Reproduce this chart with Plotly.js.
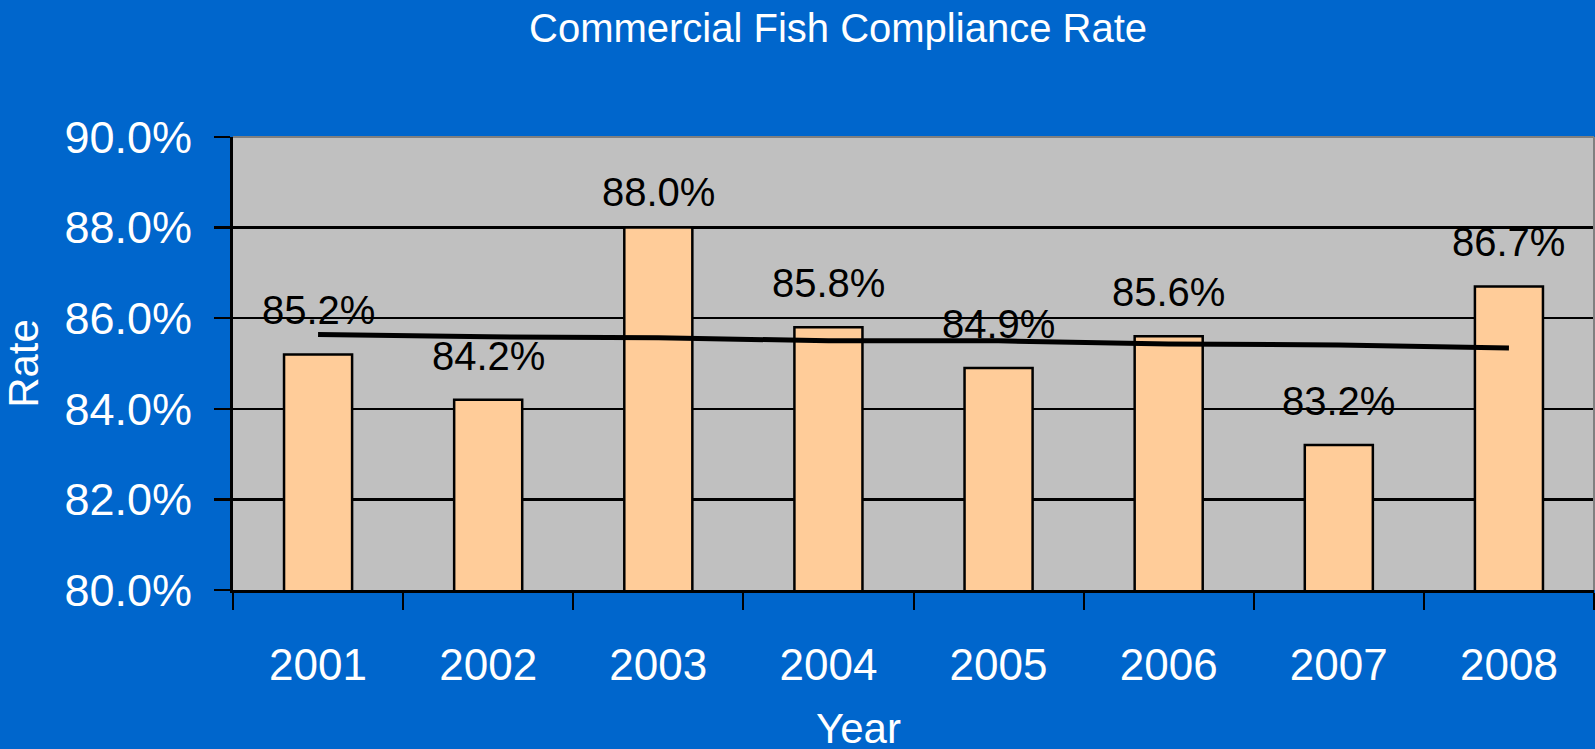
<!DOCTYPE html>
<html>
<head>
<meta charset="utf-8">
<script src="https://cdn.plot.ly/plotly-3.0.1.min.js"></script>
<style>html,body{margin:0;padding:0;background:#0066CC;}#chart{width:1595px;height:749px;}</style>
</head>
<body>
<div id="chart"></div>
<script>
const years = ['2001','2002','2003','2004','2005','2006','2007','2008'];
const rates = [0.852, 0.842, 0.880, 0.858, 0.849, 0.856, 0.832, 0.867];
const trend = [0.8564, 0.8559, 0.8557, 0.8550, 0.8550, 0.8543, 0.8541, 0.8534];
const yTicks = [0.80, 0.82, 0.84, 0.86, 0.88, 0.90];

const FONT = 'Arial, "Liberation Sans", sans-serif';

const bars = {
  type: 'bar', x: years, y: rates, width: 0.4,
  marker: {color: '#FFCC99', line: {color: '#000000', width: 2.5}},
  hoverinfo: 'x+y', showlegend: false
};
const line = {
  type: 'scatter', mode: 'lines', x: years, y: trend,
  line: {color: '#000000', width: 5}, showlegend: false, hoverinfo: 'skip'
};

const labelAnn = years.map((yr, i) => ({
  x: i, y: rates[i], xref: 'x', yref: 'y',
  text: (rates[i] * 100).toFixed(1) + '%',
  showarrow: false, yanchor: 'bottom', xanchor: 'center',
  yshift: rates[i] >= 0.88 ? 12 : 20,
  font: {family: FONT, size: 40, color: '#000000'}
}));

const layout = {
  width: 1595, height: 749,
  paper_bgcolor: '#0066CC', plot_bgcolor: '#C0C0C0',
  margin: {l: 233, r: 1, t: 137, b: 159},
  title: {
    text: 'Commercial Fish Compliance Rate',
    font: {family: FONT, size: 40, color: '#FFFFFF'},
    xref: 'container', x: 838/1595, xanchor: 'center',
    yref: 'container', y: 1 - 28/749, yanchor: 'middle'
  },
  xaxis: {
    type: 'category', categoryorder: 'array', categoryarray: years,
    range: [-0.5, years.length - 0.5], autorange: false,
    tickson: 'boundaries', tickangle: 0,
    ticks: 'outside', ticklen: 17, tickwidth: 2, tickcolor: '#000000',
    showline: true, linecolor: '#000000', linewidth: 3,
    showgrid: false,
    tickfont: {family: FONT, size: 44, color: '#FFFFFF'},
    ticklabelstandoff: 34
  },
  yaxis: {
    range: [0.80, 0.90], autorange: false, tickvals: yTicks, tickformat: '.1%',
    ticks: 'outside', ticklen: 16, tickwidth: 2.5, tickcolor: '#000000',
    showline: true, linecolor: '#000000', linewidth: 3,
    showgrid: true, gridcolor: '#000000', gridwidth: 2.5,
    zeroline: false,
    tickfont: {family: FONT, size: 45, color: '#FFFFFF'},
    ticklabelstandoff: 13,
    title: {text: 'Rate', font: {family: FONT, size: 42, color: '#FFFFFF'}, standoff: 17}
  },
  shapes: [
    {type: 'line', xref: 'paper', yref: 'paper', x0: 0, x1: 1, y0: 1, y1: 1,
     line: {color: '#808080', width: 2}, layer: 'above'},
    {type: 'line', xref: 'paper', yref: 'paper', x0: 1, x1: 1, y0: 0, y1: 1,
     line: {color: '#808080', width: 2}, layer: 'above'}
  ],
  annotations: labelAnn.concat([{
    text: 'Year', xref: 'paper', yref: 'paper',
    x: (858 - 233) / 1361, y: (590 - 728) / 453,
    xanchor: 'center', yanchor: 'middle', showarrow: false,
    font: {family: FONT, size: 42, color: '#FFFFFF'}
  }])
};

Plotly.newPlot('chart', [bars, line], layout, {displayModeBar: false, staticPlot: true});
</script>
</body>
</html>
